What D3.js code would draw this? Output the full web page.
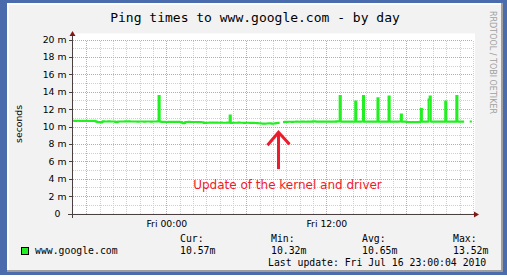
<!DOCTYPE html>
<html>
<head>
<meta charset="utf-8">
<script src="https://cdn.jsdelivr.net/npm/d3@7"></script>
<style>
body { margin: 0; background: #fff; }
svg { display: block; }
.mono { font-family: "DejaVu Sans Mono", monospace; }
.sans { font-family: "DejaVu Sans", sans-serif; }
</style>
</head>
<body>
<script>
var width = 507;
var height = 279;

var chartTitle = "Ping times to www.google.com - by day";
var startTime = "2010-07-15T17:00:04Z";
var endTime = "2010-07-16T23:00:04Z";
var stepMinutes = 5;

// ping time in ms, one row per hour (12 samples of 5 min), null = no data
var pingMs = [
  10.66,10.67,10.65,10.66,10.68,10.66,10.64,10.65,10.67,10.66,10.65,10.64,
  10.66,10.65,10.63,10.64,10.66,10.65,10.64,10.66,10.62,10.55,10.50,10.52,
  10.48,10.47,10.56,10.60,10.58,10.59,10.57,10.58,10.60,10.59,10.57,10.58,
  10.58,10.57,10.52,10.50,10.56,10.58,10.57,10.59,10.58,10.57,10.58,10.60,
  10.59,10.58,10.60,10.57,10.58,10.59,10.58,10.57,10.59,10.58,10.56,10.57,
  10.58,10.57,10.59,10.58,10.56,10.57,10.58,10.59,10.57,10.58,10.56,10.57,
  10.58,10.57,10.59,10.58,10.60,13.52,10.58,10.54,10.53,10.55,10.54,10.52,
  10.53,10.52,10.54,10.55,10.53,10.52,10.54,10.53,10.52,10.55,10.53,10.54,
  10.53,10.51,10.45,10.38,10.40,10.52,10.53,10.51,10.54,10.52,10.53,10.51,
  10.52,10.53,10.51,10.52,10.50,10.52,10.51,10.50,10.49,10.47,10.42,10.40,
  10.43,10.45,10.44,10.46,10.45,10.44,10.46,10.45,10.44,10.46,10.45,10.44,
  10.45,10.46,10.44,10.45,10.43,10.45,10.44,10.46,10.45,11.26,10.42,10.44,
  10.45,10.44,10.43,10.45,10.44,10.46,10.45,10.43,10.44,10.45,10.42,10.44,
  10.44,10.43,10.45,10.42,10.44,10.41,10.43,10.42,10.40,10.41,10.38,10.39,
  10.37,10.35,10.36,10.33,10.32,10.35,10.36,10.34,10.38,10.37,10.35,10.33,
  10.34,10.36,10.39,10.42,10.40,10.44,null,null,null,10.50,10.52,10.54,
  10.53,10.55,10.54,10.56,10.55,10.53,10.56,10.55,10.54,10.57,10.55,10.56,
  10.55,10.57,10.56,10.58,10.55,10.56,10.54,10.57,10.56,10.55,10.57,10.56,
  10.60,10.62,10.58,10.56,10.57,10.55,10.58,10.56,10.57,10.55,10.58,10.57,
  10.56,10.58,10.55,10.57,10.56,10.54,10.57,10.58,10.56,10.60,10.62,10.59,
  13.52,10.58,10.56,10.57,10.55,10.58,10.56,10.57,10.55,10.57,10.56,10.58,
  10.57,10.55,12.87,10.58,10.56,10.57,10.55,10.58,10.57,13.52,10.56,10.57,
  10.58,10.56,10.57,10.55,10.58,10.57,10.56,10.58,10.55,10.57,13.25,10.56,
  10.57,10.55,10.58,10.56,10.57,10.55,10.58,10.56,13.45,10.57,10.55,10.58,
  10.56,10.57,10.55,10.58,10.56,10.57,10.58,11.38,10.56,10.55,10.57,10.58,
  10.53,10.52,10.50,10.51,10.49,10.50,10.52,10.50,10.49,10.51,10.50,10.52,
  10.54,12.03,10.56,10.57,10.55,10.58,10.56,10.57,13.10,13.45,10.57,10.55,
  10.58,10.56,10.57,10.55,10.58,10.56,10.57,10.55,10.58,10.56,10.57,12.87,
  10.56,10.58,10.55,10.57,10.56,10.58,10.55,10.57,10.56,13.52,10.57,10.55,
  10.58,10.56,10.57,10.55,null,null,null,null,null,10.57,10.57,null
];

var yTicks = [0, 2, 4, 6, 8, 10, 12, 14, 16, 18, 20];
var yMinor = [1, 3, 5, 7, 9, 11, 13, 15, 17, 19];
var yLabel = "seconds";

var seriesName = "www.google.com";
var legendHeads = ["Cur:", "Min:", "Avg:", "Max:"];
var legendValues = ["10.57m", "10.32m", "10.65m", "13.52m"];
var lastUpdate = "Last update: Fri Jul 16 23:00:04 2010";
var watermark = "RRDTOOL / TOBI OETIKER";

var noteText = "Update of the kernel and driver";
var noteTime = "2010-07-16T08:29:00Z";
var noteArrow = [5.1, 9.35];   // arrow from / to (ms)
var noteTextAt = 2.85;

function drawChart() {
  var t0 = d3.isoParse(startTime);
  var t1 = d3.isoParse(endTime);

  var x = d3.scaleUtc().domain([t0, t1]).range([73, 473]);
  var y = d3.scaleLinear().domain([0, 20.7]).range([213.5, 33.5]);
  var px = function(v) { return Math.round(v) + 0.5; };

  var svg = d3.select("body").append("svg")
    .attr("width", width)
    .attr("height", height);

  // frame
  svg.append("rect").attr("x", 0).attr("y", 0).attr("width", 507).attr("height", 275).attr("fill", "#4a6cad");
  svg.append("rect").attr("x", 7).attr("y", 3).attr("width", 496).attr("height", 269).attr("fill", "#9e9e9e");
  svg.append("rect").attr("x", 7).attr("y", 3).attr("width", 494).attr("height", 267).attr("fill", "#fcfcfc");
  svg.append("rect").attr("x", 9).attr("y", 5).attr("width", 492).attr("height", 265).attr("fill", "#f2f2f2");

  // canvas
  svg.append("rect")
    .attr("x", x.range()[0]).attr("y", y(20.7))
    .attr("width", 402).attr("height", y(0) - y(20.7))
    .attr("fill", "#ffffff");

  var grid = svg.append("g").attr("shape-rendering", "crispEdges");

  // minor grid
  grid.selectAll(".hminor")
    .data(yMinor)
    .enter().append("line")
    .attr("x1", 73).attr("x2", 473)
    .attr("y1", function(d) { return px(y(d)); })
    .attr("y2", function(d) { return px(y(d)); })
    .attr("stroke", "#cfcfcf").attr("stroke-dasharray", "1,1");

  var hours = x.ticks(d3.utcHour.every(1));
  grid.selectAll(".vminor")
    .data(hours)
    .enter().append("line")
    .attr("x1", function(d) { return px(x(d)); })
    .attr("x2", function(d) { return px(x(d)); })
    .attr("y1", px(y(20))).attr("y2", px(y(0)))
    .attr("stroke", "#cfcfcf").attr("stroke-dasharray", "1,1");

  // major grid
  grid.selectAll(".hmajor")
    .data(yTicks.slice(1))
    .enter().append("line")
    .attr("x1", 73).attr("x2", 473)
    .attr("y1", function(d) { return px(y(d)); })
    .attr("y2", function(d) { return px(y(d)); })
    .attr("stroke", "#e49a9a").attr("stroke-dasharray", "1,1");

  var sixHours = x.ticks(d3.utcHour.every(6));
  grid.selectAll(".vmajor")
    .data(sixHours)
    .enter().append("line")
    .attr("x1", function(d) { return px(x(d)); })
    .attr("x2", function(d) { return px(x(d)); })
    .attr("y1", px(y(20))).attr("y2", px(y(0)))
    .attr("stroke", "#e49a9a").attr("stroke-dasharray", "1,1");

  // data as steps
  var steps = [];
  pingMs.forEach(function(v, i) {
    if (v == null) { steps.push(null); return; }
    steps.push({t: new Date(t0.getTime() + i * stepMinutes * 60000), v: v});
    steps.push({t: new Date(t0.getTime() + (i + 1) * stepMinutes * 60000), v: v});
  });
  var line = d3.line()
    .defined(function(d) { return d != null; })
    .x(function(d) { return x(d.t); })
    .y(function(d) { return y(d.v); });

  svg.append("path")
    .datum(steps)
    .attr("d", line)
    .attr("fill", "none")
    .attr("stroke", "#22ee22")
    .attr("stroke-width", 2);

  // axes
  var axisColor = "#4a4040";
  var arrowColor = "#801818";
  var ax = svg.append("g").attr("shape-rendering", "crispEdges");
  ax.append("line").attr("x1", 68).attr("x2", 475).attr("y1", px(y(0))).attr("y2", px(y(0))).attr("stroke", axisColor);
  ax.append("line").attr("x1", 72.5).attr("x2", 72.5).attr("y1", px(y(0)) + 3).attr("y2", 35).attr("stroke", axisColor);
  svg.append("path")
    .attr("d", "M474," + (px(y(0)) - 3) + "L479," + px(y(0)) + "L474," + (px(y(0)) + 3) + "Z")
    .attr("fill", arrowColor);
  svg.append("path")
    .attr("d", "M69.5,36L72.5,31L75.5,36Z")
    .attr("fill", arrowColor);

  var yAxis = d3.axisLeft(y)
    .tickValues(yTicks)
    .tickFormat(function(d) { return d === 0 ? "0" : d + " m"; })
    .tickSize(4)
    .tickPadding(2);
  var gy = svg.append("g")
    .attr("transform", "translate(72.5,0)")
    .call(yAxis);
  gy.select(".domain").remove();
  gy.selectAll(".tick line").attr("stroke", axisColor).attr("shape-rendering", "crispEdges");
  gy.selectAll(".tick text")
    .attr("class", "sans")
    .attr("font-size", "9.3px")
    .attr("fill", "#000")
    .attr("x", function(d) { return d === 0 ? -12 : -6; });
  gy.attr("font-family", null).attr("font-size", null);

  var xAxis = d3.axisBottom(x)
    .tickValues(x.ticks(d3.utcHour.every(12)))
    .tickFormat(d3.utcFormat("%a %H:%M"))
    .tickSize(0)
    .tickPadding(6);
  var gx = svg.append("g")
    .attr("transform", "translate(0," + px(y(0)) + ")")
    .call(xAxis);
  gx.select(".domain").remove();
  gx.attr("font-family", null).attr("font-size", null);
  gx.selectAll(".tick text")
    .attr("class", "sans")
    .attr("font-size", "9.3px")
    .attr("fill", "#000");

  svg.append("text")
    .attr("class", "sans")
    .attr("transform", "translate(22," + y(10.3) + ") rotate(-90)")
    .attr("text-anchor", "middle")
    .attr("font-size", "9.3px")
    .text(yLabel);

  // title
  svg.append("text")
    .attr("class", "mono")
    .attr("x", 255).attr("y", 22)
    .attr("text-anchor", "middle")
    .attr("font-size", "13px")
    .text(chartTitle);

  // watermark
  svg.append("text")
    .attr("class", "sans")
    .attr("transform", "translate(490,11) rotate(90)")
    .attr("font-size", "8px")
    .attr("fill", "#a0a0a0")
    .text(watermark);

  // legend
  svg.append("rect")
    .attr("x", 21.5).attr("y", 247.5).attr("width", 7).attr("height", 7)
    .attr("fill", "#22ee22").attr("stroke", "#000").attr("shape-rendering", "crispEdges");
  svg.append("text")
    .attr("class", "mono").attr("font-size", "9.8px")
    .attr("x", 35).attr("y", 254)
    .text(seriesName);

  var legendX = [180, 271, 362, 453];
  legendHeads.forEach(function(h, i) {
    svg.append("text").attr("class", "mono").attr("font-size", "9.8px")
      .attr("x", legendX[i]).attr("y", 242).text(h);
    svg.append("text").attr("class", "mono").attr("font-size", "9.8px")
      .attr("x", legendX[i]).attr("y", 254).text(legendValues[i]);
  });
  svg.append("text").attr("class", "mono").attr("font-size", "9.8px")
    .attr("x", 268).attr("y", 265.5).text(lastUpdate);

  // annotation
  var nx = px(x(d3.isoParse(noteTime))) - 1;
  var noteColor = "#ec1c2c";
  svg.append("line")
    .attr("x1", nx).attr("x2", nx)
    .attr("y1", y(noteArrow[0])).attr("y2", y(noteArrow[1]) + 1)
    .attr("stroke", noteColor).attr("stroke-width", 3);
  svg.append("path")
    .attr("d", "M" + (nx - 11) + "," + (y(noteArrow[1]) + 13) +
               "L" + nx + "," + y(noteArrow[1]) +
               "L" + (nx + 11) + "," + (y(noteArrow[1]) + 12))
    .attr("fill", "none")
    .attr("stroke", noteColor).attr("stroke-width", 3);
  svg.append("text")
    .attr("class", "sans")
    .attr("x", nx + 9).attr("y", y(noteTextAt))
    .attr("text-anchor", "middle")
    .attr("font-size", "12px")
    .attr("fill", noteColor)
    .text(noteText);
}

drawChart();
</script>
</body>
</html>
